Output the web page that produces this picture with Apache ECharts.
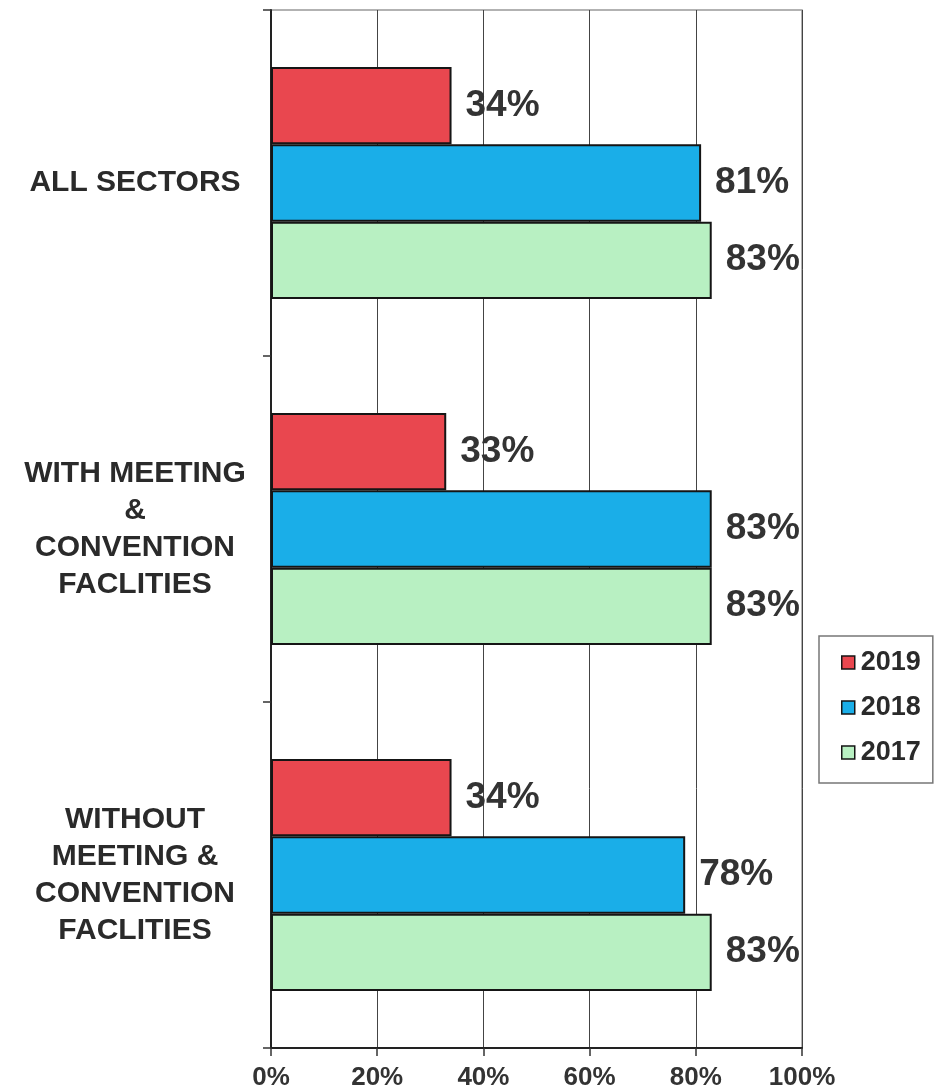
<!DOCTYPE html>
<html>
<head>
<meta charset="utf-8">
<script src="https://cdn.jsdelivr.net/npm/echarts@6/dist/echarts.min.js"></script>
<style>
  html, body { margin: 0; padding: 0; background: #fff; }
  #chart { width: 944px; height: 1092px; }
</style>
</head>
<body>
<div id="chart"></div>
<script>
const categories = [
  'ALL SECTORS',
  'WITH MEETING\n&\nCONVENTION\nFACLITIES',
  'WITHOUT\nMEETING &\nCONVENTION\nFACLITIES'
];
const seriesNames = ['2019', '2018', '2017'];
const values2019 = [34, 33, 34];
const values2018 = [81, 83, 78];
const values2017 = [83, 83, 83];
const xTicks = [0, 20, 40, 60, 80, 100];

const colors = ['#e9474f', '#1aaee8', '#b8f0c2'];
const FONT = '"Liberation Sans", Arial, sans-serif';

const chart = echarts.init(document.getElementById('chart'), null, { renderer: 'canvas' });

function barSeries(name, data, color) {
  return {
    name: name,
    type: 'bar',
    data: data,
    barGap: '0%',
    barCategoryGap: '33%',
    itemStyle: { color: color, borderColor: '#151515', borderWidth: 2 },
    label: {
      show: true,
      position: 'right',
      distance: 14,
      formatter: '{c}%',
      fontFamily: FONT,
      fontWeight: 'bold',
      fontSize: 37,
      color: '#333',
      padding: [6, 0, 0, 0]
    },
    emphasis: { disabled: true }
  };
}

chart.setOption({
  animation: false,
  backgroundColor: '#fff',
  grid: {
    left: 271, right: 142, top: 10, bottom: 44,
    show: true, borderColor: '#999', borderWidth: 1.5,
    containLabel: false
  },
  legend: {
    orient: 'vertical',
    left: 819, top: 636,
    data: seriesNames,
    icon: 'rect',
    itemWidth: 13, itemHeight: 13,
    itemGap: 18,
    padding: [13, 12, 17, 22],
    borderColor: '#777', borderWidth: 1.5,
    itemStyle: { borderColor: '#151515', borderWidth: 1.5 },
    textStyle: {
      fontFamily: FONT, fontWeight: 'bold', fontSize: 27, color: '#2a2a2a',
      padding: [0, 0, 0, 1]
    }
  },
  xAxis: {
    type: 'value',
    min: 0, max: 100, interval: 20,
    axisLine: { show: true, lineStyle: { color: '#222', width: 2 } },
    axisTick: { show: true, length: 8, lineStyle: { color: '#333', width: 1.5 } },
    splitLine: { show: true, lineStyle: { color: '#444', width: 1 } },
    axisLabel: {
      formatter: function (v) { return xTicks.indexOf(v) >= 0 ? v + '%' : ''; },
      fontFamily: FONT, fontWeight: 'bold', fontSize: 26, color: '#333',
      margin: 17
    }
  },
  yAxis: {
    type: 'category',
    inverse: true,
    data: categories,
    axisLine: { show: true, lineStyle: { color: '#222', width: 2 } },
    axisTick: { show: true, length: 8, lineStyle: { color: '#333', width: 1.5 } },
    axisLabel: {
      fontFamily: FONT, fontWeight: 'bold', fontSize: 30, lineHeight: 37,
      color: '#2a2a2a', align: 'center', margin: 136,
      padding: [10, 0, 0, 0]
    }
  },
  series: [
    barSeries(seriesNames[0], values2019, colors[0]),
    barSeries(seriesNames[1], values2018, colors[1]),
    barSeries(seriesNames[2], values2017, colors[2])
  ]
});
</script>
</body>
</html>
